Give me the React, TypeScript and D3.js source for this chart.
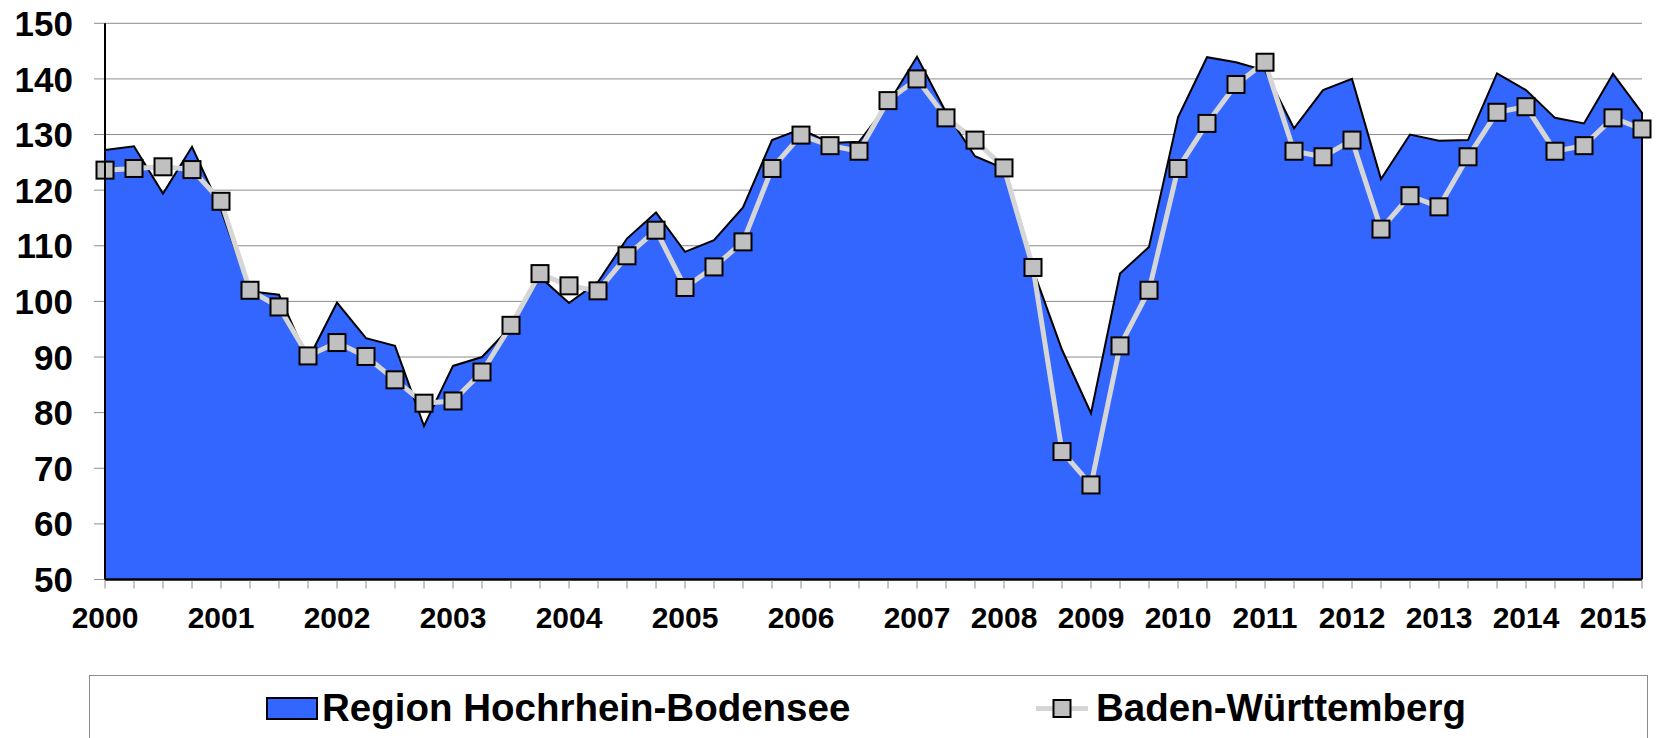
import * as d3 from 'd3';

// survey periods: quarterly until 2006, three surveys a year from 2007 on
const categories = [
  '2000 Q1', '2000 Q2', '2000 Q3', '2000 Q4',
  '2001 Q1', '2001 Q2', '2001 Q3', '2001 Q4',
  '2002 Q1', '2002 Q2', '2002 Q3', '2002 Q4',
  '2003 Q1', '2003 Q2', '2003 Q3', '2003 Q4',
  '2004 Q1', '2004 Q2', '2004 Q3', '2004 Q4',
  '2005 Q1', '2005 Q2', '2005 Q3', '2005 Q4',
  '2006 Q1', '2006 Q2', '2006 Q3', '2006 Q4',
  '2007 T1', '2007 T2', '2007 T3',
  '2008 T1', '2008 T2', '2008 T3',
  '2009 T1', '2009 T2', '2009 T3',
  '2010 T1', '2010 T2', '2010 T3',
  '2011 T1', '2011 T2', '2011 T3',
  '2012 T1', '2012 T2', '2012 T3',
  '2013 T1', '2013 T2', '2013 T3',
  '2014 T1', '2014 T2', '2014 T3',
  '2015 T1', '2015 T2',
];

const region = [
  127.2, 127.9, 119.4, 127.8, 116.5, 101.8, 101.2, 89.5,
  99.8, 93.4, 92.0, 77.6, 88.4, 90.0, 95.5, 104.4,
  99.7, 103.5, 111.3, 116.0, 108.9, 111.0, 116.9, 129.0,
  131.0, 128.5, 128.7, 135.5, 144.0, 134.0, 126.1,
  123.9, 105.7, 91.3, 79.9, 105.0, 109.8, 133.1, 143.9, 143.0,
  141.5, 131.1, 138.0, 140.0, 122.0, 130.0, 128.9, 129.0, 141.0,
  138.0, 133.0, 132.0, 140.9, 133.9,
];

const badenWuerttemberg = [
  123.6, 123.9, 124.2, 123.7, 118.0, 102.0, 99.0, 90.2,
  92.6, 90.1, 85.9, 81.7, 82.1, 87.3, 95.7, 105.0,
  102.8, 101.9, 108.2, 112.8, 102.5, 106.2, 110.7, 123.9,
  129.9, 128.0, 127.0, 136.1, 140.0, 133.0, 129.0,
  124.0, 106.1, 73.0, 67.0, 92.0, 102.0, 123.9, 132.0, 139.0,
  143.0, 127.0, 126.0, 129.0, 113.0, 119.0, 117.0, 126.0, 134.0,
  135.0, 127.0, 128.0, 133.0, 131.0,
];

const yTicks = [50, 60, 70, 80, 90, 100, 110, 120, 130, 140, 150];
const seriesNames = ['Region Hochrhein-Bodensee', 'Baden-Württemberg'];

const font = '"Liberation Sans", Arial, sans-serif';
const blue = '#3366FF';
const lineGrey = '#D6D6D6';
const markerGrey = '#C0C0C0';

export default function App() {
  const width = 1657;
  const height = 738;

  const x = d3.scalePoint<string>().domain(categories).range([105, 1642]);
  const y = d3.scaleLinear().domain([50, 150]).range([579.5, 23.3]);
  const xi = (i: number) => x(categories[i]) as number;

  const area = d3.area<number>()
    .x((_, i) => xi(i))
    .y0(y(50))
    .y1(d => y(d));
  const outline = d3.line<number>()
    .x((_, i) => xi(i))
    .y(d => y(d));
  const last = region.length - 1;

  const [x0, x1] = x.range();
  const ms = 17;

  return (
    <svg width={width} height={height} style={{ position: 'absolute', left: 0, top: 0 }}
      fontFamily={font} fontWeight="bold">
      {/* gridlines + y ticks */}
      {yTicks.map(t => (
        <line key={t} x1={x0 - 11} x2={x1} y1={y(t)} y2={y(t)} stroke="#8c8c8c" strokeWidth={1} />
      ))}

      {/* region area */}
      <path d={area(region) ?? ''} fill={blue} />
      <path d={(outline(region) ?? '') + `L${xi(last)},${y(50)}`} fill="none" stroke="#000"
        strokeWidth={2} strokeLinejoin="miter" />

      {/* BW line and markers */}
      <path d={outline(badenWuerttemberg) ?? ''} fill="none" stroke={lineGrey} strokeWidth={5}
        strokeLinejoin="round" />
      {badenWuerttemberg.map((v, i) => (
        <rect key={i} x={xi(i) - ms / 2} y={y(v) - ms / 2} width={ms} height={ms}
          fill={markerGrey} stroke="#000" strokeWidth={2} />
      ))}

      {/* axes */}
      <line x1={x0} x2={x0} y1={y(150)} y2={y(50)} stroke="#000" strokeWidth={2} />
      <line x1={x0} x2={x1} y1={y(50)} y2={y(50)} stroke="#000" strokeWidth={2.5} />
      {categories.map(c => (
        <line key={c} x1={x(c)} x2={x(c)} y1={y(50) + 1} y2={y(50) + 9} stroke="#8c8c8c" strokeWidth={1} />
      ))}

      {yTicks.map(t => (
        <text key={t} x={73} y={y(t)} dy="0.36em" textAnchor="end" fontSize={35}>{t}</text>
      ))}
      {categories.filter(c => c.endsWith('1')).map(c => (
        <text key={c} x={x(c)} y={628} textAnchor="middle" fontSize={30}>{c.slice(0, 4)}</text>
      ))}

      {/* legend */}
      <rect x={89.5} y={675.5} width={1558} height={80} fill="#fff" stroke="#8c8c8c" strokeWidth={1} />
      <rect x={267} y={698} width={50} height={21} fill={blue} stroke="#000" strokeWidth={2} />
      <text x={322} y={720.5} fontSize={38.5}>{seriesNames[0]}</text>
      <line x1={1036} x2={1088} y1={708.5} y2={708.5} stroke={lineGrey} strokeWidth={5} />
      <rect x={1062 - ms / 2} y={708.5 - ms / 2} width={ms} height={ms}
        fill={markerGrey} stroke="#000" strokeWidth={2} />
      <text x={1096} y={720.5} fontSize={38.5}>{seriesNames[1]}</text>
    </svg>
  );
}
